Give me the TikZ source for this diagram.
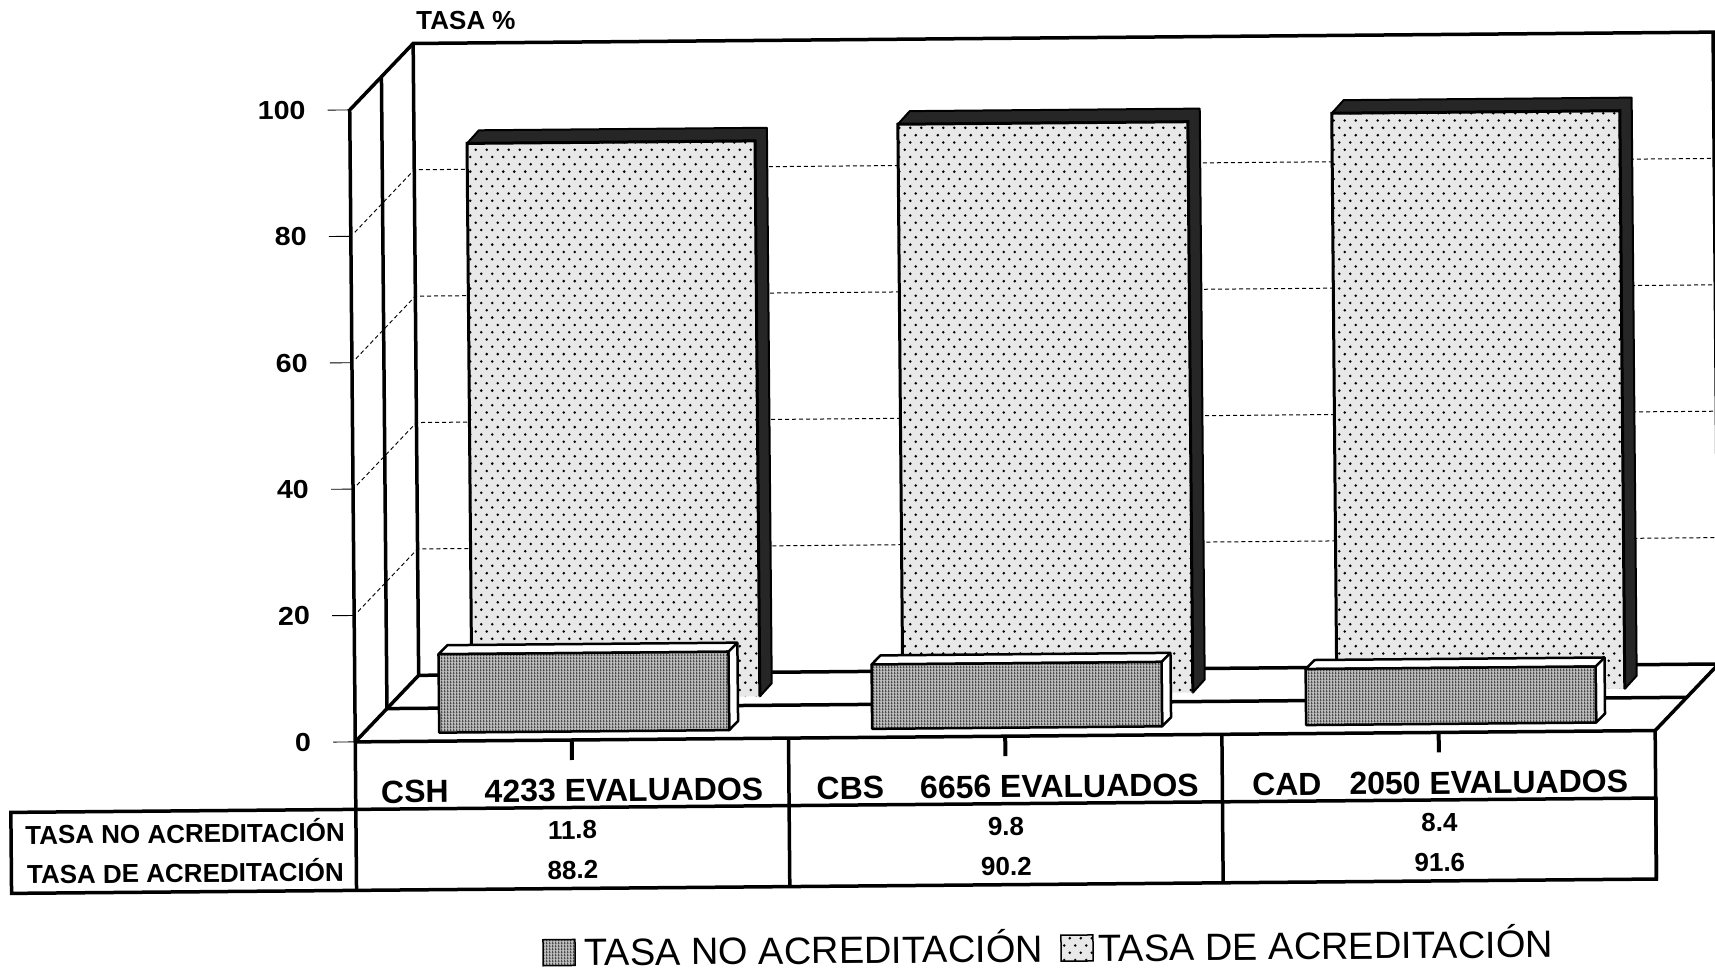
\documentclass[tikz,border=0pt]{standalone}
\usepackage{fontspec}
\setmainfont{Liberation Sans}
\usetikzlibrary{patterns}
\pgfdeclarepatternformonly{bardots}{\pgfqpoint{-1pt}{-1pt}}{\pgfqpoint{12pt}{15.6pt}}{\pgfqpoint{11pt}{14.6pt}}{%
  \pgfpathcircle{\pgfqpoint{2.75pt}{3.65pt}}{1.4pt}%
  \pgfpathcircle{\pgfqpoint{8.25pt}{10.95pt}}{1.4pt}%
  \pgfusepath{fill}}
\pgfdeclarepatternformonly{barlines}{\pgfqpoint{0pt}{0pt}}{\pgfqpoint{3pt}{3pt}}{\pgfqpoint{3pt}{3pt}}{%
  \pgfpathrectangle{\pgfqpoint{0pt}{0pt}}{\pgfqpoint{1.5pt}{3pt}}%
  \pgfpathrectangle{\pgfqpoint{0pt}{0pt}}{\pgfqpoint{3pt}{0.5pt}}%
  \pgfusepath{fill}}
\begin{document}
\begin{tikzpicture}[x=1pt,y=-1pt,
  frame/.style={line width=3.5pt},
  gridline/.style={line width=1pt, dash pattern=on 4pt off 3pt},
  tickline/.style={line width=0.9pt},
  fbar/.style={line width=2.5pt, line join=round},
  dface/.style={fill=black!85, draw=black, line width=2pt, line join=round},
  dotface/.style={preaction={fill=black!9}, pattern=bardots, pattern color=black},
  grayface/.style={preaction={fill=black!25}, pattern=barlines, pattern color=black!70},
  axlbl/.style={inner sep=0pt, font=\fontsize{26}{30}\selectfont\bfseries},
  vallbl/.style={inner sep=0pt, font=\fontsize{26}{30}\selectfont\bfseries},
  catlbl/.style={inner sep=0pt, font=\fontsize{32}{38}\selectfont\bfseries},
  leglbl/.style={inner sep=0pt, font=\fontsize{38}{44}\selectfont},
  ]
\useasboundingbox (0,0) rectangle (1715,971);
\fill[white] (0,0) rectangle (1715,971);
\begin{scope}[rotate around={0.5:(857,485)}, transform shape]
  % gridlines
  \foreach \v in {20,40,60,80}{
    \pgfmathsetmacro\yf{737.5-6.32*\v}
    \draw[gridline] (357,{\yf-4}) -- (417,{\yf-66}) -- (1717,{\yf-66});
  }
  % y ticks and labels
  \foreach \v in {0,20,40,60,80,100}{
    \pgfmathsetmacro\yf{737.5-6.32*\v}
    \draw[tickline] (331,\yf) -- (353,\yf);
    \node[axlbl, anchor=east, xscale=1.1] (ylab\v) at (309,\yf) {\v};
  }
  \node[axlbl] (tasa) at (470,17) {TASA \%};
  % frame
  \draw[frame, line join=miter] (353,886) -- (353,105.6) -- (417,39.6) -- (1717,39.6) -- (1717,671.5) -- (1653,737.5) -- (1653,886);
  \draw[frame] (417,39.6) -- (417,671.5) -- (1717,671.5);
  \draw[frame] (385,72.6) -- (385,704.5) -- (1685,704.5);
  \draw[frame] (353,737.5) -- (417,671.5);
  \draw[frame] (353,737.5) -- (1653,737.5);
  % table
  \draw[frame] (8,805) rectangle (1653,886);
  \draw[frame] (786.3,737.5) -- (786.3,886);
  \draw[frame] (1219.7,737.5) -- (1219.7,886);
  \foreach \cx in {569.5,1003,1436.5}{
    \draw[line width=4pt] (\cx,737.5) -- (\cx,757.5);
  }
  % back row bars (dotted)
  \foreach \xa/\xb/\yt in {470/758/140, 901/1191/124.6, 1335/1623/117.4}{
    \path[dface] (\xb,695.5) -- ({\xb+12},682.5) -- ({\xb+12},{\yt-13}) -- ({\xa+12},{\yt-13}) -- (\xa,\yt) -- (\xb,\yt) -- cycle;
    \path[dotface] (\xa,\yt) rectangle (\xb,695.5);
    \draw[line width=3pt, line join=miter] (\xa,695.5) -- (\xa,\yt) -- (\xb,\yt) -- (\xb,695.5);
  }
  % front row bars (gray)
  \foreach \xa/\xb/\yt in {437/727/650.6, 870/1160/664.6, 1304/1594/673}{
    \draw[fbar, fill=white] (\xb,729) -- ({\xb+9},720) -- ({\xb+9},{\yt-9}) -- ({\xa+9},{\yt-9}) -- (\xa,\yt) -- (\xb,\yt) -- cycle;
    \draw[fbar] (\xb,\yt) -- ({\xb+9},{\yt-9});
    \draw[fbar, grayface] (\xa,\yt) rectangle (\xb,729);
  }
  % category labels
  \node[catlbl, anchor=base] (csh) at (569.5,799) {CSH\hspace{36pt}4233 EVALUADOS};
  \node[catlbl, anchor=base] (cbs) at (1005,799) {CBS\hspace{36pt}6656 EVALUADOS};
  \node[catlbl, anchor=base] (cad) at (1437.5,799) {CAD\hspace{28pt}2050 EVALUADOS};
  % row headers
  \node[vallbl, anchor=base] (rowno) at (182,837) {TASA NO ACREDITACIÓN};
  \node[vallbl, anchor=base] (rowde) at (182,876.5) {TASA DE ACREDITACIÓN};
  % values
  \node[vallbl, anchor=base] (csh1) at (569.5,836.5) {11.8};
  \node[vallbl, anchor=base] (csh2) at (569.5,876.5) {88.2};
  \node[vallbl, anchor=base] (cbs1) at (1003,836.5) {9.8};
  \node[vallbl, anchor=base] (cbs2) at (1003,876.5) {90.2};
  \node[vallbl, anchor=base] (cad1) at (1436.5,836.5) {8.4};
  \node[vallbl, anchor=base] (cad2) at (1436.5,876.5) {91.6};
  % legend
  \draw[line width=1.5pt, grayface] (539,937) rectangle (571,963);
  \node[leglbl, anchor=base west] (leg1) at (580,963.5) {TASA NO ACREDITACIÓN};
  \draw[line width=1.5pt, dotface] (1057,937) rectangle (1089,963);
  \node[leglbl, anchor=base west] (leg2) at (1094,963.5) {TASA DE ACREDITACIÓN};
\end{scope}
\end{tikzpicture}
\end{document}
